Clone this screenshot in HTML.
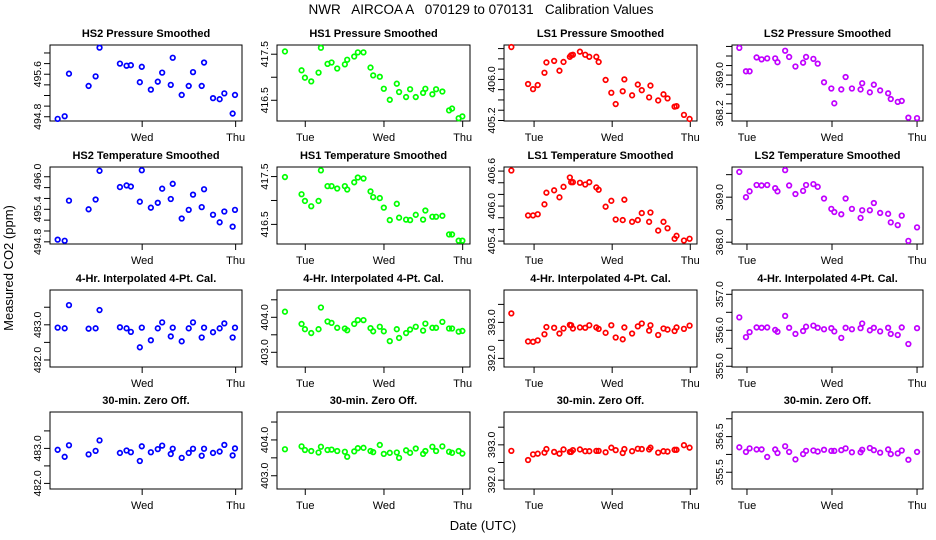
<!DOCTYPE html>
<html><head><meta charset="utf-8">
<style>
html,body{margin:0;padding:0;background:#fff;}
svg{display:block;font-family:"Liberation Sans",sans-serif;}
</style></head>
<body>
<svg id="chart" width="936" height="540" viewBox="0 0 936 540" xmlns="http://www.w3.org/2000/svg">
<text x="481" y="14" font-size="13.5" text-anchor="middle" xml:space="preserve">NWR   AIRCOA A   070129 to 070131   Calibration Values</text>
<text transform="translate(13,268) rotate(-90)" font-size="13" text-anchor="middle">Measured CO2 (ppm)</text>
<text x="483" y="530" font-size="13" text-anchor="middle">Date (UTC)</text>
<g id="panels"></g>
</svg>
<script>
// times in days since Tue 00:00 UTC
const timesHS2=[0.096,0.171,0.217,0.427,0.502,0.544,0.762,0.833,0.879,0.975,0.996,1.093,1.167,1.214,1.306,1.327,1.423,1.498,1.544,1.637,1.662,1.758,1.829,1.879,1.968,1.993];
const timesHS1=[-0.258,-0.047,-0.004,0.076,0.169,0.199,0.283,0.334,0.406,0.503,0.533,0.622,0.668,0.740,0.829,0.863,0.947,0.998,1.074,1.163,1.192,1.281,1.332,1.404,1.497,1.526,1.615,1.662,1.742,1.827,1.865,1.949,1.996];
const timesLS1=[-0.291,-0.077,-0.013,0.047,0.133,0.158,0.257,0.325,0.377,0.458,0.475,0.497,0.587,0.655,0.707,0.797,0.827,0.916,0.989,1.045,1.135,1.156,1.255,1.328,1.379,1.473,1.490,1.589,1.657,1.709,1.799,1.824,1.919,1.991];
const timesLS2=[-0.090,-0.012,0.031,0.113,0.172,0.238,0.332,0.359,0.449,0.496,0.570,0.660,0.695,0.781,0.832,0.906,0.992,1.027,1.109,1.160,1.234,1.336,1.355,1.445,1.492,1.566,1.660,1.691,1.773,1.820,1.898,2.000];

const hs2Pres=[494.76,494.81,495.61,495.38,495.56,496.10,495.80,495.76,495.77,495.45,495.74,495.31,495.46,495.63,495.40,495.91,495.21,495.38,495.64,495.38,495.82,495.15,495.13,495.24,494.86,495.21];
const hs2Temp=[494.84,494.82,495.56,495.40,495.58,496.11,495.81,495.84,495.82,495.54,496.12,495.43,495.52,495.78,495.59,495.87,495.23,495.39,495.67,495.44,495.77,495.30,495.16,495.36,495.08,495.39];
const hs2Interp=[482.92,482.90,483.56,482.89,482.90,483.42,482.93,482.90,482.80,482.36,482.92,482.56,482.90,483.07,482.67,482.92,482.53,482.90,483.07,482.64,482.92,482.79,482.90,483.04,482.64,482.92];
const hs2Zero=[482.96,482.76,483.09,482.83,482.93,483.23,482.87,482.94,482.89,482.64,483.06,482.89,482.98,483.08,482.84,482.99,482.73,482.87,482.99,482.79,482.99,482.87,482.91,483.10,482.80,483.00];

const hs1Pres=[417.56,417.15,416.99,416.91,417.10,417.64,417.29,417.32,417.19,417.28,417.38,417.45,417.54,417.54,417.21,417.04,417.01,416.75,416.51,416.86,416.68,416.57,416.74,416.57,416.66,416.75,416.63,416.74,416.69,416.28,416.32,416.11,416.15];
const hs1Temp=[417.49,417.13,416.99,416.88,416.99,417.63,417.30,417.30,417.25,417.30,417.23,417.38,417.48,417.46,417.19,417.07,417.05,416.85,416.59,416.93,416.64,416.60,416.59,416.70,416.60,416.79,416.66,416.66,416.68,416.29,416.29,416.16,416.16];
const hs1Interp=[404.16,403.81,403.66,403.55,403.66,404.28,403.88,403.84,403.70,403.68,403.63,403.81,403.92,403.92,403.69,403.60,403.73,403.60,403.32,403.66,403.41,403.55,403.65,403.73,403.62,403.82,403.70,403.70,403.87,403.68,403.68,403.59,403.61];
const hs1Zero=[403.74,403.82,403.72,403.69,403.65,403.81,403.72,403.73,403.69,403.67,403.53,403.68,403.77,403.78,403.69,403.66,403.86,403.61,403.64,403.65,403.50,403.71,403.64,403.76,403.61,403.69,403.81,403.69,403.82,403.67,403.64,403.69,403.62];

const ls1Pres=[406.63,405.91,405.81,405.89,406.13,406.33,406.36,406.17,406.34,406.44,406.47,406.48,406.54,406.48,406.44,406.44,406.34,405.99,405.74,405.52,405.77,406.00,405.69,405.90,405.79,405.65,405.88,405.59,405.71,405.63,405.47,405.48,405.31,405.23];
const ls1Temp=[406.61,405.84,405.84,405.86,406.03,406.23,406.27,406.15,406.33,406.49,406.41,406.41,406.40,406.37,406.41,406.32,406.28,405.99,406.09,405.77,405.76,406.11,405.73,405.76,405.88,405.73,405.89,405.58,405.73,405.62,405.44,405.49,405.41,405.44];
const ls1Interp=[393.25,392.47,392.46,392.50,392.67,392.87,392.85,392.69,392.83,392.93,392.92,392.83,392.86,392.85,392.92,392.86,392.82,392.71,392.92,392.58,392.53,392.86,392.69,392.89,392.97,392.77,392.92,392.65,392.83,392.80,392.76,392.86,392.82,392.91];
const ls1Zero=[392.83,392.57,392.73,392.75,392.78,392.88,392.80,392.75,392.87,392.80,392.80,392.85,392.87,392.82,392.82,392.83,392.83,392.79,392.92,392.85,392.77,392.88,392.82,392.89,392.88,392.87,392.92,392.78,392.82,392.81,392.86,392.86,392.99,392.92];

const ls2Pres=[369.57,369.08,369.08,369.37,369.33,369.35,369.35,369.27,369.51,369.38,369.18,369.26,369.38,369.34,369.24,368.85,368.72,368.41,368.70,368.96,368.72,368.70,368.83,368.64,368.80,368.68,368.62,368.50,368.44,368.46,368.11,368.10];
const ls2Temp=[369.56,369.00,369.13,369.27,369.26,369.27,369.20,369.13,369.60,369.26,369.07,369.14,369.27,369.29,369.23,368.97,368.74,368.67,368.62,368.97,368.74,368.54,368.71,368.71,368.87,368.65,368.63,368.44,368.38,368.59,368.03,368.33];
const ls2Interp=[356.36,355.81,355.95,356.08,356.07,356.08,356.01,355.96,356.40,356.07,355.90,355.98,356.10,356.13,356.07,356.03,356.06,355.97,355.79,356.07,356.03,356.06,356.19,356.00,356.07,355.97,356.07,355.90,355.87,356.08,355.62,356.06];
const ls2Zero=[356.20,356.07,356.17,356.14,356.14,355.93,356.14,356.04,356.23,356.07,355.86,356.01,356.10,356.11,356.08,356.13,356.10,356.10,356.12,356.17,356.06,356.06,356.13,356.18,356.12,356.05,356.14,356.01,356.03,356.11,355.85,356.07];

const panelTitles=[
 ["HS2 Pressure Smoothed","HS1 Pressure Smoothed","LS1 Pressure Smoothed","LS2 Pressure Smoothed"],
 ["HS2 Temperature Smoothed","HS1 Temperature Smoothed","LS1 Temperature Smoothed","LS2 Temperature Smoothed"],
 ["4-Hr. Interpolated 4-Pt. Cal.","4-Hr. Interpolated 4-Pt. Cal.","4-Hr. Interpolated 4-Pt. Cal.","4-Hr. Interpolated 4-Pt. Cal."],
 ["30-min. Zero Off.","30-min. Zero Off.","30-min. Zero Off.","30-min. Zero Off."]];
const xTickDays=[0,1,2];
const xTickLabels=["Tue","Wed","Thu"];
const yTicks=[
 [[494.8,495.0,495.2,495.4,495.6,495.8,496.0],[416.5,417.0,417.5],[405.2,405.4,405.6,405.8,406.0,406.2,406.4,406.6],[368.2,368.4,368.6,368.8,369.0,369.2,369.4,369.6]],
 [[494.8,495.0,495.2,495.4,495.6,495.8,496.0],[416.5,417.0,417.5],[405.4,405.6,405.8,406.0,406.2,406.4,406.6],[368.0,368.5,369.0,369.5]],
 [[482.0,482.5,483.0,483.5],[403.0,403.5,404.0,404.5],[392.0,392.5,393.0,393.5],[355.0,355.5,356.0,356.5,357.0]],
 [[482.0,482.5,483.0,483.5],[403.0,403.5,404.0,404.5],[392.0,392.5,393.0,393.5],[355.5,356.0,356.5,357.0]]];
const yLabels=[
 [["494.8","495.6"],["416.5","417.5"],["405.2","406.0"],["368.2","369.0"]],
 [["494.8","495.4","496.0"],["416.5","417.5"],["405.4","406.0","406.6"],["368.0","369.0"]],
 [["482.0","483.0"],["403.0","404.0"],["392.0","393.0"],["355.0","356.0","357.0"]],
 [["482.0","483.0"],["403.0","404.0"],["392.0","393.0"],["355.5","356.5"]]];
const yDomains=[
 [[494.72,496.15],[416.05,417.70],[405.19,406.67],[368.04,369.63]],
 [[494.76,496.18],[416.09,417.70],[405.35,406.67],[367.96,369.67]],
 [[481.80,483.99],[402.58,404.78],[391.76,393.90],[354.98,357.12]],
 [[481.84,484.04],[402.63,404.78],[391.75,393.93],[355.03,357.19]]];
const xDomains=[[0.014,2.068],[-0.359,2.093],[-0.385,2.086],[-0.176,2.070]];
const colTimes=[timesHS2,timesHS1,timesLS1,timesLS2];
const values=[[hs2Pres,hs1Pres,ls1Pres,ls2Pres],[hs2Temp,hs1Temp,ls1Temp,ls2Temp],[hs2Interp,hs1Interp,ls1Interp,ls2Interp],[hs2Zero,hs1Zero,ls1Zero,ls2Zero]];
const colors=["#0000ff","#00ff00","#ff0000","#c000ff"];

const NS="http://www.w3.org/2000/svg";
const boxX=[[50,242],[277,470],[504,697],[732,923]];
const boxY=[[45,121],[167,244],[290,367],[412,489]];
const root=document.getElementById('panels');
function mk(tag,attrs,parent){const e=document.createElementNS(NS,tag);for(const k in attrs)e.setAttribute(k,attrs[k]);parent.appendChild(e);return e;}
for(let r=0;r<4;r++){for(let c=0;c<4;c++){
  const [x0,x1]=boxX[c],[y0,y1]=boxY[r];
  const xd=xDomains[c],yd=yDomains[r][c];
  const sx=v=>x0+(v-xd[0])/(xd[1]-xd[0])*(x1-x0);
  const sy=v=>y1-(v-yd[0])/(yd[1]-yd[0])*(y1-y0);
  const g=mk('g',{},root);
  
  
  const t=mk('text',{x:(x0+x1)/2,y:y0-8,'font-size':'11','font-weight':'bold','text-anchor':'middle'},g);
  t.textContent=panelTitles[r][c];
  
  
  const box=mk('rect',{x:x0,y:y0,width:x1-x0,height:y1-y0,fill:'none',stroke:'#000','stroke-width':'1'},g);
  
  
  const ax=x0;
  yTicks[r][c].forEach(v=>{const y=sy(v);if(y<y0-1||y>y1+1)return;
    const tk=mk('line',{x1:ax,x2:ax-6,y1:y,y2:y,stroke:'#000'},g);
    
    
    const s=v.toFixed(1);
    if(yLabels[r][c].indexOf(s)>=0){
      const lb=mk('text',{transform:'translate('+(ax-9)+','+y+') rotate(-90)','font-size':'10.5','text-anchor':'middle'},g);
      lb.textContent=s;
      
      
    }
  });
  const ay=y1;
  xTickDays.forEach((d,i)=>{const x=sx(d);if(x<x0-1||x>x1+1)return;
    const tk=mk('line',{x1:x,x2:x,y1:ay,y2:ay+6,stroke:'#000'},g);
    
    
    const lb=mk('text',{x:x,y:ay+20,'font-size':'11','text-anchor':'middle'},g);
    lb.textContent=xTickLabels[i];
    
    
  });
  const tm=colTimes[c],vals=values[r][c];
  for(let i=0;i<vals.length;i++){
    const p=mk('circle',{cx:sx(tm[i]),cy:sy(vals[i]),r:'2.3',fill:'none',stroke:colors[c],'stroke-width':'1.7'},g);
    
    
  }
}}
</script>
</body></html>
